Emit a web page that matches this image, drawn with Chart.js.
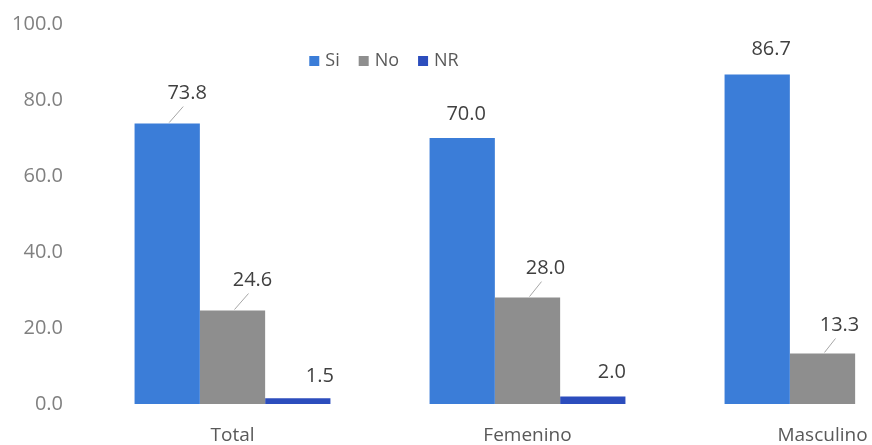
<!DOCTYPE html>
<html>
<head>
<meta charset="utf-8">
<script src="https://cdn.jsdelivr.net/npm/chart.js@4.4.0/dist/chart.umd.min.js"></script>
<style>
  html, body { margin: 0; padding: 0; background: #fff; overflow: hidden; }
  #wrap { position: relative; width: 970px; height: 445px; }
</style>
</head>
<body>
<div id="wrap"><canvas id="chart" width="970" height="445"></canvas></div>
<script>
// --- DATA ---
const categories = ["Total", "Femenino", "Masculino"];
const seriesNames = ["Si", "No", "NR"];
const siValues = [73.8, 70.0, 86.7];
const noValues = [24.6, 28.0, 13.3];
const nrValues = [1.5, 2.0, null];
const yTicks = [0, 20, 40, 60, 80, 100];

const colors = ["#3b7dd8", "#8e8e8e", "#2c4dbd"];
const FONT = "'Open Sans', sans-serif";

// label nudges (dx, height above bar top) and whether a leader line is drawn
const nudges = [
    [[20, 30, true], [4, 24, false], [14, 25, false]],
    [[20, 30, true], [18, 29, true], [17, 28, true]],
    [[22, 22, false], [19, 24, false], [0, 0, false]]
];

const valueLabels = {
    id: "valueLabels",
    afterDatasetsDraw(chart) {
        const ctx = chart.ctx;
        ctx.save();
        ctx.font = "20px " + FONT;
        ctx.fillStyle = "#404040";
        ctx.textAlign = "center";
        ctx.textBaseline = "middle";
        chart.data.datasets.forEach((ds, di) => {
            const meta = chart.getDatasetMeta(di);
            meta.data.forEach((bar, i) => {
                const v = ds.data[i];
                if (v === null || v === undefined) return;
                const [dx, dy, leader] = nudges[di][i];
                const lx = bar.x + dx;
                const ly = bar.y - dy;
                ctx.fillText(v.toFixed(1), lx, ly);
                if (leader) {
                    ctx.strokeStyle = "#a6a6a6";
                    ctx.lineWidth = 1;
                    ctx.beginPath();
                    ctx.moveTo(bar.x + 2, bar.y - 1);
                    ctx.lineTo(lx - 4, ly + 13);
                    ctx.stroke();
                }
            });
        });
        ctx.restore();
    }
};

// legend drawn inside the plot, like the original
const innerLegend = {
    id: "innerLegend",
    afterDraw(chart) {
        const ctx = chart.ctx;
        ctx.save();
        ctx.font = "18px " + FONT;
        ctx.textBaseline = "middle";
        const box = 10, gap = 6, spacing = 19;
        const widths = seriesNames.map(n => box + gap + ctx.measureText(n).width);
        const total = widths.reduce((a, b) => a + b, 0) + spacing * (widths.length - 1);
        let x = 384 - total / 2;
        const y = 61;
        seriesNames.forEach((n, i) => {
            ctx.fillStyle = colors[i];
            ctx.fillRect(x, y - box / 2, box, box);
            ctx.fillStyle = "#595959";
            ctx.textAlign = "left";
            ctx.fillText(n, x + box + gap, y);
            x += widths[i] + spacing;
        });
        ctx.restore();
    }
};

const ctx = document.getElementById("chart").getContext("2d");
new Chart(ctx, {
    type: "bar",
    data: {
        labels: categories,
        datasets: [
            { label: seriesNames[0], data: siValues, backgroundColor: colors[0] },
            { label: seriesNames[1], data: noValues, backgroundColor: colors[1] },
            { label: seriesNames[2], data: nrValues, backgroundColor: colors[2] }
        ]
    },
    options: {
        responsive: false,
        animation: false,
        devicePixelRatio: 1,
        layout: { padding: { top: 24, right: 0, bottom: 0, left: 0 } },
        datasets: { bar: { barPercentage: 1.0, categoryPercentage: 0.664, borderWidth: 0 } },
        scales: {
            x: {
                afterFit: (scale) => { scale.height = 41; },
                grid: { display: false, drawTicks: false },
                border: { display: false },
                ticks: { color: "#595959", font: { family: FONT, size: 19 }, padding: 20 }
            },
            y: {
                min: 0,
                max: 100,
                afterBuildTicks: (scale) => { scale.ticks = yTicks.map(v => ({ value: v })); },
                afterFit: (scale) => {
                    scale.width = 85;
                    scale.paddingTop = 0;
                    scale.paddingBottom = 0;
                },
                grid: { display: false, drawTicks: false },
                border: { display: false },
                ticks: {
                    color: "#808080",
                    font: { family: FONT, size: 20 },
                    padding: 22,
                    callback: v => Number(v).toFixed(1)
                }
            }
        },
        plugins: {
            legend: { display: false },
            tooltip: { enabled: false }
        }
    },
    plugins: [valueLabels, innerLegend]
});
</script>
</body>
</html>
